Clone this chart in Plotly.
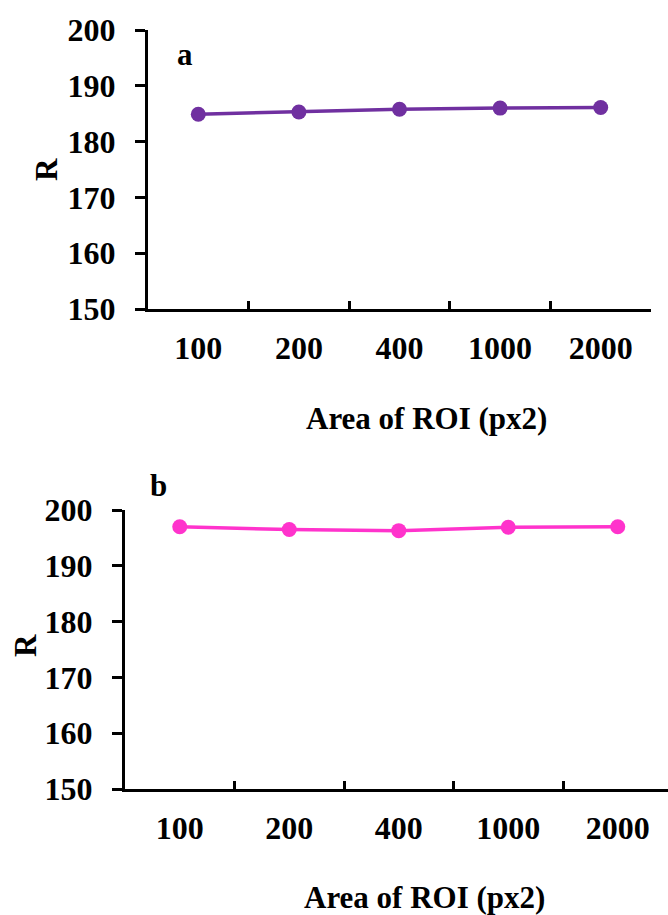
import plotly.graph_objects as go

# ROI area categories (px^2) and mean R-channel values for the two panels
roi_areas = ["100", "200", "400", "1000", "2000"]
r_panel_a = [184.9, 185.3, 185.8, 186.0, 186.1]
r_panel_b = [197.0, 196.5, 196.3, 196.9, 197.0]

panel_labels = ["a", "b"]
x_title = "Area of ROI (px2)"
y_title = "R"

W, H = 668, 915
FONT = "Liberation Serif"


def px_x(p):
    return p / W


def px_y(p):
    return 1 - p / H


fig = go.Figure()

fig.add_trace(go.Scatter(
    x=roi_areas, y=r_panel_a, mode="lines+markers",
    line=dict(color="#7030A0", width=3.5),
    marker=dict(size=15, color="#7030A0"),
    xaxis="x", yaxis="y", showlegend=False,
))
fig.add_trace(go.Scatter(
    x=roi_areas, y=r_panel_b, mode="lines+markers",
    line=dict(color="#FF33CC", width=3.5),
    marker=dict(size=15, color="#FF33CC"),
    xaxis="x2", yaxis="y2", showlegend=False,
))

tick_font = dict(family=FONT, size=32, color="black", weight="bold")

x_common = dict(
    type="category", tickson="boundaries", ticks="inside", ticklen=8,
    tickwidth=3, tickcolor="black", showline=True, linecolor="black",
    linewidth=3, showgrid=False, zeroline=False, automargin=False,
    tickfont=tick_font, ticklabelstandoff=9,
)
y_common = dict(
    range=[150, 200], dtick=10, tick0=150, ticks="outside", ticklen=10,
    tickwidth=3, tickcolor="black", showline=True, linecolor="black",
    linewidth=3, showgrid=False, zeroline=False, automargin=False,
    tickfont=tick_font, ticklabelstandoff=13,
)

# panel b: plot area runs off the right edge of the page
b_left, b_step = 125, 109.5
b_right_val = 4.5 - (b_left + 5 * b_step - W) / b_step

fig.update_layout(
    width=W, height=H,
    margin=dict(l=0, r=0, t=0, b=0, autoexpand=False),
    paper_bgcolor="white", plot_bgcolor="white",
    xaxis=dict(x_common, domain=[px_x(148), px_x(651)], range=[-0.5, 4.5], anchor="y"),
    yaxis=dict(y_common, domain=[px_y(309), px_y(30)], anchor="x"),
    xaxis2=dict(x_common, domain=[px_x(b_left), 1.0], range=[-0.5, b_right_val], anchor="y2"),
    yaxis2=dict(y_common, domain=[px_y(789), px_y(510)], anchor="x2"),
)

annotations = []
text_font = dict(family=FONT, size=31, color="black", weight="bold")
for label, (lx, ly) in zip(panel_labels, [(185, 54), (158, 486)]):
    annotations.append(dict(text=label, x=px_x(lx), y=px_y(ly), xref="paper", yref="paper",
                            showarrow=False, xanchor="center", yanchor="middle", font=text_font))
for tx, ty in [(426, 418), (424, 897)]:
    annotations.append(dict(text=x_title, x=px_x(tx), y=px_y(ty), xref="paper", yref="paper",
                            showarrow=False, xanchor="center", yanchor="middle", font=text_font))
for rx, ry in [(47, 170), (25, 645)]:
    annotations.append(dict(text=y_title, x=px_x(rx), y=px_y(ry), xref="paper", yref="paper",
                            showarrow=False, xanchor="center", yanchor="middle", textangle=-90,
                            font=text_font))
fig.update_layout(annotations=annotations)

fig.write_html("out.html")
